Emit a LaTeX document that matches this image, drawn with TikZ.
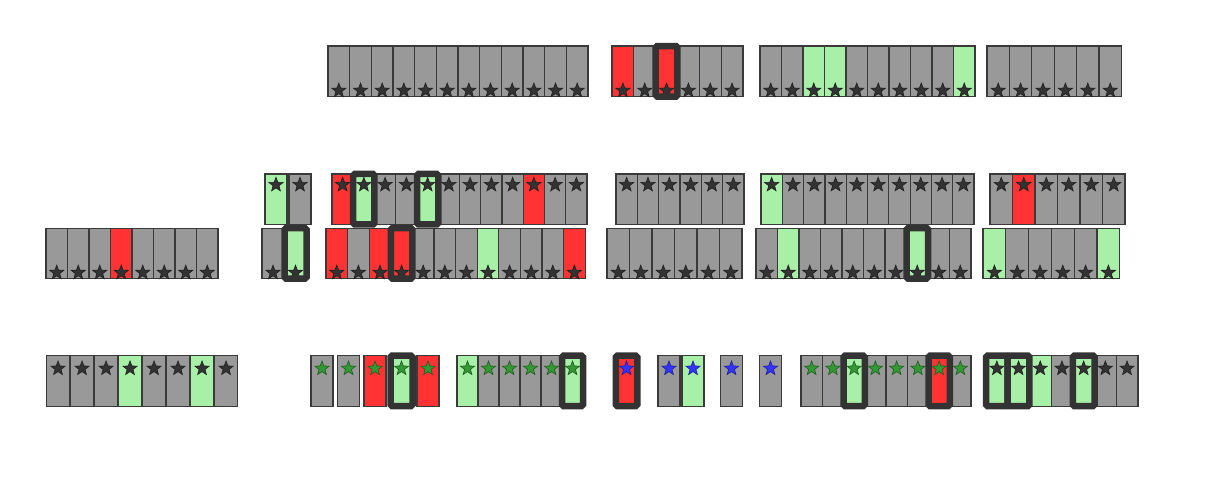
\documentclass[tikz,border=0pt]{standalone}
\usetikzlibrary{positioning,shapes.geometric}
\definecolor{cgray}{HTML}{999999}
\definecolor{cred}{HTML}{FF3333}
\definecolor{cgreen}{HTML}{A8F0A8}
\definecolor{cline}{HTML}{3A3A3A}
\definecolor{sdark}{HTML}{333333}
\definecolor{sgreen}{HTML}{339933}
\definecolor{sblue}{HTML}{3333FF}
\tikzset{
  cell/.style={rectangle, draw=cline, line width=1.2pt, minimum height=50.5pt, inner sep=0pt, outer sep=0pt},
  starmark/.style={star, star points=5, star point ratio=2.4, minimum size=15pt, inner sep=0pt, draw=#1!60!black, fill=#1, line width=0.6pt},
  hl/.style={draw=sdark, line width=6.5pt, rounded corners=1.5pt},
}
\begin{document}
\begin{tikzpicture}[x=1pt, y=-1pt]
  \useasboundingbox (0,0) rectangle (1226,483);

  % row 1
  \foreach \c [count=\i] in {cgray,cgray,cgray,cgray,cgray,cgray,cgray,cgray,cgray,cgray,cgray,cgray}
  {
    \node[cell, fill=\c, minimum width=21.67pt] (r1a\i) at (328+21.67*\i-10.83, 71.25) {};
    \node[starmark=sdark, above=2.5pt of r1a\i.south] (s1a\i) {};
  }
  \foreach \c [count=\i] in {cred,cgray,cred,cgray,cgray,cgray}
  {
    \node[cell, fill=\c, minimum width=21.83pt] (r1b\i) at (612+21.83*\i-10.92, 71.25) {};
    \node[starmark=sdark, above=2.5pt of r1b\i.south] (s1b\i) {};
  }
  \foreach \c [count=\i] in {cgray,cgray,cgreen,cgreen,cgray,cgray,cgray,cgray,cgray,cgreen}
  {
    \node[cell, fill=\c, minimum width=21.5pt] (r1c\i) at (760+21.5*\i-10.75, 71.25) {};
    \node[starmark=sdark, above=2.5pt of r1c\i.south] (s1c\i) {};
  }
  \foreach \c [count=\i] in {cgray,cgray,cgray,cgray,cgray,cgray}
  {
    \node[cell, fill=\c, minimum width=22.4pt] (r1d\i) at (987+22.4*\i-11.2, 71.25) {};
    \node[starmark=sdark, above=2.5pt of r1d\i.south] (s1d\i) {};
  }

  % row 2
  \foreach \c [count=\i] in {cgreen,cgray}
  {
    \node[cell, fill=\c, minimum width=22pt] (r2a\i) at (252+24*\i, 199.15) {};
    \node[starmark=sdark, below=2.5pt of r2a\i.north] (s2a\i) {};
  }
  \foreach \c [count=\i] in {cred,cgreen,cgray,cgray,cgreen,cgray,cgray,cgray,cgray,cred,cgray,cgray}
  {
    \node[cell, fill=\c, minimum width=21.25pt] (r2b\i) at (332+21.25*\i-10.63, 199.15) {};
    \node[starmark=sdark, below=2.5pt of r2b\i.north] (s2b\i) {};
  }
  \foreach \c [count=\i] in {cgray,cgray,cgray,cgray,cgray,cgray}
  {
    \node[cell, fill=\c, minimum width=21.33pt] (r2c\i) at (616+21.33*\i-10.67, 199.15) {};
    \node[starmark=sdark, below=2.5pt of r2c\i.north] (s2c\i) {};
  }
  \foreach \c [count=\i] in {cgreen,cgray,cgray,cgray,cgray,cgray,cgray,cgray,cgray,cgray}
  {
    \node[cell, fill=\c, minimum width=21.3pt] (r2d\i) at (761+21.3*\i-10.65, 199.15) {};
    \node[starmark=sdark, below=2.5pt of r2d\i.north] (s2d\i) {};
  }
  \foreach \c [count=\i] in {cgray,cred,cgray,cgray,cgray,cgray}
  {
    \node[cell, fill=\c, minimum width=22.5pt] (r2e\i) at (990+22.5*\i-11.25, 199.15) {};
    \node[starmark=sdark, below=2.5pt of r2e\i.north] (s2e\i) {};
  }

  % row 3
  \foreach \c [count=\i] in {cgray,cgray,cgray,cred,cgray,cgray,cgray,cgray}
  {
    \node[cell, fill=\c, minimum width=21.5pt] (r3a\i) at (46+21.5*\i-10.75, 253.35) {};
    \node[starmark=sdark, above=2.5pt of r3a\i.south] (s3a\i) {};
  }
  \foreach \c [count=\i] in {cgray,cgreen}
  {
    \node[cell, fill=\c, minimum width=22pt] (r3b\i) at (250.5+22.5*\i, 253.35) {};
    \node[starmark=sdark, above=2.5pt of r3b\i.south] (s3b\i) {};
  }
  \foreach \c [count=\i] in {cred,cgray,cred,cred,cgray,cgray,cgray,cgreen,cgray,cgray,cgray,cred}
  {
    \node[cell, fill=\c, minimum width=21.6pt] (r3c\i) at (326+21.6*\i-10.8, 253.35) {};
    \node[starmark=sdark, above=2.5pt of r3c\i.south] (s3c\i) {};
  }
  \foreach \c [count=\i] in {cgray,cgray,cgray,cgray,cgray,cgray}
  {
    \node[cell, fill=\c, minimum width=22.5pt] (r3d\i) at (607+22.5*\i-11.25, 253.35) {};
    \node[starmark=sdark, above=2.5pt of r3d\i.south] (s3d\i) {};
  }
  \foreach \c [count=\i] in {cgray,cgreen,cgray,cgray,cgray,cgray,cgray,cgreen,cgray,cgray}
  {
    \node[cell, fill=\c, minimum width=21.5pt] (r3e\i) at (756+21.5*\i-10.75, 253.35) {};
    \node[starmark=sdark, above=2.5pt of r3e\i.south] (s3e\i) {};
  }
  \foreach \c [count=\i] in {cgreen,cgray,cgray,cgray,cgray,cgreen}
  {
    \node[cell, fill=\c, minimum width=22.8pt] (r3f\i) at (983+22.8*\i-11.4, 253.35) {};
    \node[starmark=sdark, above=2.5pt of r3f\i.south] (s3f\i) {};
  }

  % row 4
  \foreach \c [count=\i] in {cgray,cgray,cgray,cgreen,cgray,cgray,cgreen,cgray}
  {
    \node[cell, fill=\c, minimum width=22.7pt] (r4a\i) at (34.05+24*\i, 380.85) {};
    \node[starmark=sdark, below=4.5pt of r4a\i.north] (s4a\i) {};
  }
  \foreach \c [count=\i] in {cgray,cgray,cred,cgreen,cred}
  {
    \node[cell, fill=\c, minimum width=22pt] (r4b\i) at (295.5+26.5*\i, 380.85) {};
    \node[starmark=sgreen, below=4.5pt of r4b\i.north] (s4b\i) {};
  }
  \foreach \c [count=\i] in {cgreen,cgray,cgray,cgray,cgray,cgreen}
  {
    \node[cell, fill=\c, minimum width=21pt] (r4c\i) at (457+21*\i-10.5, 380.85) {};
    \node[starmark=sgreen, below=4.5pt of r4c\i.north] (s4c\i) {};
  }
  \node[cell, fill=cred, minimum width=21.5pt] (r4d1) at (626.5, 380.85) {};
  \node[cell, fill=cgray, minimum width=22pt] (r4d2) at (669, 380.85) {};
  \node[cell, fill=cgreen, minimum width=22pt] (r4d3) at (693, 380.85) {};
  \node[cell, fill=cgray, minimum width=22pt] (r4d4) at (731.5, 380.85) {};
  \node[cell, fill=cgray, minimum width=22pt] (r4d5) at (770.5, 380.85) {};
  \foreach \i in {1,...,5}
    \node[starmark=sblue, below=4.5pt of r4d\i.north] (s4d\i) {};
  \foreach \c [count=\i] in {cgray,cgray,cgreen,cgray,cgray,cgray,cred,cgray}
  {
    \node[cell, fill=\c, minimum width=21.25pt] (r4e\i) at (801+21.25*\i-10.63, 380.85) {};
    \node[starmark=sgreen, below=4.5pt of r4e\i.north] (s4e\i) {};
  }
  \foreach \c [count=\i] in {cgreen,cgreen,cgreen,cgray,cgreen,cgray,cgray}
  {
    \node[cell, fill=\c, minimum width=21.7pt] (r4f\i) at (986+21.7*\i-10.85, 380.85) {};
    \node[starmark=sdark, below=4.5pt of r4f\i.north] (s4f\i) {};
  }

  % highlighted cells
  \foreach \n in {r1b3,r2b2,r2b5,r3b2,r3c4,r3e8,r4b4,r4c6,r4d1,r4e3,r4e7,r4f1,r4f2,r4f5}
    \draw[hl] (\n.south west) rectangle (\n.north east);
\end{tikzpicture}
\end{document}
